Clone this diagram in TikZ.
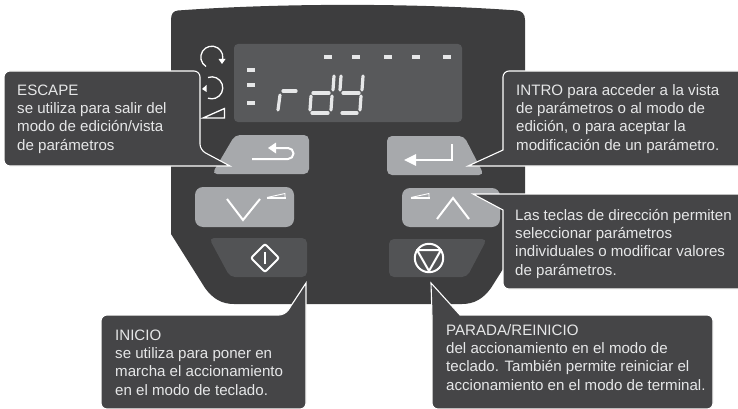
\documentclass[tikz,border=0pt]{standalone}
\usepackage{fontspec}
\setmainfont{Liberation Sans}
\definecolor{panel}{HTML}{3D3D3E}
\definecolor{callout}{HTML}{454547}
\definecolor{lcd}{HTML}{58595B}
\definecolor{keylight}{HTML}{A7A9AC}
\definecolor{keydark}{HTML}{525355}
\definecolor{seg}{HTML}{E6E7E8}
\tikzset{
  calloutbox/.style={fill=callout,draw=white,line width=1.1pt,rounded corners=6pt,line join=miter},
  calltext/.style={anchor=base west,inner sep=0pt,align=left,text=seg,font=\fontsize{15.1}{18.3}\selectfont},
  lightkey/.style={fill=keylight,rounded corners=5pt},
  darkkey/.style={fill=keydark,rounded corners=5pt},
  iconline/.style={draw=white,line width=2pt},
  thinicon/.style={draw=white,line width=1.3pt},
  rampedge/.style={draw=white,line width=.9pt},
  rampbase/.style={draw=white,line width=1.5pt},
  segline/.style={draw=seg,line width=3.2pt,line cap=round},
  dashmark/.style={fill=seg}
}
\begin{document}
\begin{tikzpicture}[x=1pt,y=-1pt]
\useasboundingbox (0,0) rectangle (738,409);
% panel
\fill[panel] (171,20) .. controls (171,14) and (173,11) .. (178,10.5)
  .. controls (280,3) and (415,3) .. (517,10.5) .. controls (522,11) and (525,14) .. (525,20)
  -- (525,234) -- (491,288) .. controls (483,299) and (474,304) .. (462,304)
  -- (234,304) .. controls (222,304) and (213,299) .. (205,288) -- (171,234) -- cycle;
% display
\fill[lcd,rounded corners=4pt] (234,44) rectangle (462,122);
\foreach \x in {328,356,388,416,447} \fill[dashmark] (\x-4,55) rectangle (\x+4,59);
\foreach \y in {70,85,103} \fill[dashmark] (247,\y-2) rectangle (255,\y+2);
% rdy
\draw[segline] (278,110) -- (280,95);
\draw[segline] (283,91) -- (296,91);
\draw[segline] (334,76) -- (333,90);
\draw[segline] (332,96) -- (331,110);
\draw[segline] (313,93) -- (329,93);
\draw[segline] (311,96) -- (310,110);
\draw[segline] (312,113) -- (328,113);
\draw[segline] (341,76) -- (340,90);
\draw[segline] (363,76) -- (362,90);
\draw[segline] (343,93) -- (359,93);
\draw[segline] (361,96) -- (360,110);
\draw[segline] (342,113) -- (357,113);
% status icons
\draw[thinicon] (206,66.5) arc[start angle=122,end angle=385,radius=11];
\fill[white] (218.5,59) -- (225.5,59) -- (222,64) -- cycle;
\draw[thinicon] (208,77.5) arc[start angle=-110,end angle=110,radius=11];
\fill[white] (206.5,85) -- (206.5,92) -- (202,89) -- cycle;
\draw[thinicon] (203,118) -- (224.5,108.5) -- (224.5,118) -- cycle;
% keys
\path[lightkey] (235,135) -- (309,135) -- (309,174) -- (212,174) -- cycle;
\path[lightkey] (387,136) -- (464,136) -- (484,175) -- (387,175) -- cycle;
\path[lightkey,rounded corners=8pt] (195,187) rectangle (294,227);
\path[lightkey,rounded corners=8pt] (402,188) rectangle (500,227);
\path[darkkey] (209,238) -- (307,238) -- (307,277) -- (230,277) -- cycle;
\path[darkkey] (389,239) -- (487,239) -- (467,277) -- (389,277) -- cycle;
% key icons
\draw[iconline] (252,159) -- (288,159) arc[start angle=90,end angle=-90,radius=5.5] -- (272,148);
\fill[white] (268,148) -- (276,142.5) -- (276,153.5) -- cycle;
\draw[iconline] (452,144) -- (452,160) -- (414,160);
\fill[white] (404,160) -- (416,154) -- (416,166) -- cycle;
\draw[iconline] (227,199) -- (243,220) -- (260,199);
\draw[rampedge] (267,197.5) -- (285,193.5) -- (285,198);
\draw[rampbase] (267,198) -- (286,198);
\draw[iconline] (437,219) -- (453,198) -- (469,219);
\draw[rampedge] (411,197.5) -- (429,193.5) -- (429,198);
\draw[rampbase] (411,198) -- (430,198);
\draw[iconline,rounded corners=2pt] (265,244) -- (279,258) -- (265,272) -- (251,258) -- cycle;
\draw[thinicon] (265,252) -- (265,264);
\draw[iconline] (429,258) circle[radius=14.2];
\draw[iconline,line join=round] (417,250) -- (441,250) -- (429,271) -- cycle;
% callouts
\path[calloutbox] (4,71) -- (200,71) -- (200,150) [sharp corners] -- (230,166) -- (200,166) [rounded corners=6pt] -- (4,166) -- cycle;
\path[calloutbox] (503,71) -- (745,71) -- (745,166) -- (503,166) [sharp corners] -- (468,166) -- (503,150) [rounded corners=6pt] -- cycle;
\path[calloutbox] (473,194) [sharp corners] -- (503,210) [rounded corners=6pt] -- (503,289) -- (745,289) -- (745,194) -- (503,194) [sharp corners] -- cycle;
\path[calloutbox] (101,315) -- (285,315) [sharp corners] -- (306,283) -- (306,315) [rounded corners=6pt] -- (306,409) -- (101,409) -- cycle;
\path[calloutbox] (432,409) -- (432,315) [sharp corners] -- (431,283) -- (460,315) [rounded corners=6pt] -- (713,315) -- (713,409) -- cycle;
% texts
\node[calltext] (escape) at (17,150) {ESCAPE\\se utiliza para salir del\\modo de edición/vista\\de parámetros};
\node[calltext] (intro) at (516,150) {INTRO para acceder a la vista\\de parámetros o al modo de\\edición, o para aceptar la\\modificación de un parámetro.};
\node[calltext] (teclas) at (515,275) {Las teclas de dirección permiten\\seleccionar parámetros\\individuales o modificar valores\\de parámetros.};
\node[calltext] (inicio) at (115,395) {INICIO\\se utiliza para poner en\\marcha el accionamiento\\en el modo de teclado.};
\node[calltext] (parada) at (446,390) {PARADA/REINICIO\\del accionamiento en el modo de\\teclado. También permite reiniciar el\\accionamiento en el modo de terminal.};
\end{tikzpicture}
\end{document}
